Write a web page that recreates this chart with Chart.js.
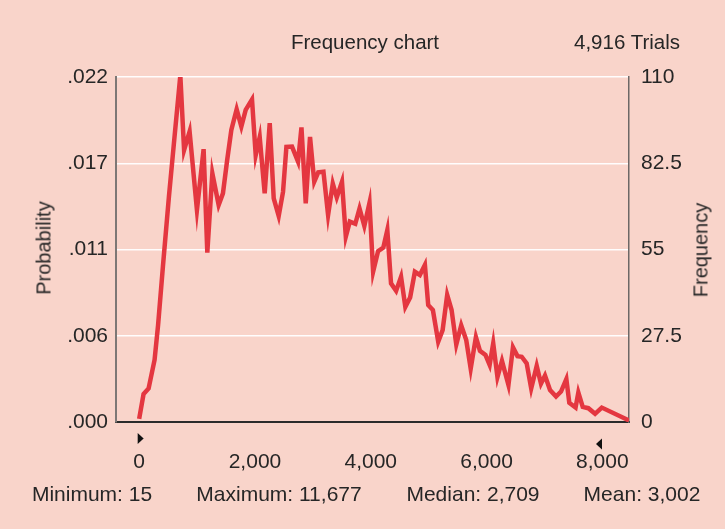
<!DOCTYPE html>
<html>
<head>
<meta charset="utf-8">
<script src="https://cdn.jsdelivr.net/npm/chart.js@4.4.1/dist/chart.umd.min.js"></script>
<style>
  html, body { margin: 0; padding: 0; background: rgb(249,212,202); }
  #wrap { position: relative; width: 725px; height: 529px; overflow: hidden; background: rgb(249,212,202); }
  canvas { position: absolute; left: 0; top: 0; }
  .t { position: absolute; font-family: 'Liberation Sans', Arial, sans-serif; color: #262626; white-space: nowrap; transform: translate(-50%, -50%); }
  .rot { transform: translate(-50%, -50%) rotate(-90deg); }
</style>
</head>
<body>
<div id="wrap">
  <canvas id="c" width="725" height="529"></canvas>
  <div class="t" style="left:365px; top:42px; font-size:20.5px;">Frequency chart</div>
  <div class="t" style="left:627px; top:42px; font-size:20.5px;">4,916 Trials</div>
  <div class="t rot" style="left:44px; top:248px; font-size:20px;">Probability</div>
  <div class="t rot" style="left:701px; top:250px; font-size:20px;">Frequency</div>
  <div id="stats"></div>
</div>
<script>
// ---- data ----
const binValues = [0, 76, 163, 266, 327, 410, 514, 595, 711, 776, 871, 998, 1113, 1177, 1264, 1373, 1447, 1520, 1592, 1684,
  1765, 1840, 1949, 2013, 2082, 2168, 2255, 2324, 2410, 2485, 2543, 2640, 2744, 2803, 2877, 2951, 3024, 3093, 3183, 3263,
  3344, 3413, 3503, 3569, 3638, 3733, 3806, 3889, 3978, 4041, 4127, 4217, 4286, 4350, 4438, 4523, 4597, 4680, 4762, 4848,
  4935, 4992, 5073, 5165, 5241, 5320, 5396, 5477, 5562, 5649, 5726, 5816, 5886, 5981, 6053, 6115, 6188, 6266, 6378, 6456,
  6534, 6607, 6693, 6771, 6866, 6940, 7009, 7096, 7200, 7286, 7378, 7429, 7537, 7585, 7661, 7758, 7874, 7990, 8460];
const frequencies = [1, 8.9, 10.7, 19.8, 30.9, 49.5, 71.8, 87.8, 110.5, 86.7, 92.6, 67.6, 87, 54, 79.3, 69.2, 72.9, 83.5, 93.1, 99.7,
  94.2, 99.5, 102.8, 85.1, 90.8, 72.9, 95.3, 71.3, 65.7, 73.4, 87.7, 87.8, 83, 93.9, 69.7, 90.9, 76.6, 79.6, 79.8, 66,
  76, 71.6, 76.6, 59.1, 63.9, 63.2, 68.1, 62.5, 69.9, 47.9, 54.5, 55.6, 61.2, 44.2, 41.8, 46.3, 36.7, 39.7, 47.9, 46.9,
  50.1, 37.3, 35.7, 25.6, 29.3, 40.5, 35.7, 24.7, 30.8, 26.1, 17, 27.1, 22.7, 21.4, 18.2, 25.1, 14.3, 19.5, 11.8, 23.8,
  21, 20.8, 18.7, 10.7, 17.9, 12.2, 14.8, 10.2, 8.1, 9.7, 13.7, 6.1, 4.6, 9.4, 4.8, 4.4, 2.6, 4.6, 0.5];
const yTickValues = [0, 27.5, 55, 82.5, 110];
const probabilityLabels = ['.000', '.006', '.011', '.017', '.022'];
const frequencyLabels = ['0', '27.5', '55', '82.5', '110'];
const xTickValues = [0, 2000, 4000, 6000, 8000];
const markerValues = [0, 7950];
const statLabels = ['Minimum: 15', 'Maximum: 11,677', 'Median: 2,709', 'Mean: 3,002'];

// ---- styles ----
const FONT = "'Liberation Sans', Arial, sans-serif";
const TEXT = '#262626';
const statCenters = [92, 279, 473, 642];

const statsEl = document.getElementById('stats');
statLabels.forEach((s, i) => {
  const d = document.createElement('div');
  d.className = 't';
  d.style.left = statCenters[i] + 'px';
  d.style.top = '494px';
  d.style.fontSize = '21px';
  d.textContent = s;
  statsEl.appendChild(d);
});

const markerPlugin = {
  id: 'markers',
  afterDraw(chart) {
    const ctx = chart.ctx;
    const xs = chart.scales.x;
    ctx.save();
    ctx.fillStyle = '#111';
    // left marker (points right)
    let px = xs.getPixelForValue(markerValues[0]);
    ctx.beginPath();
    ctx.moveTo(px - 1.5, 433);
    ctx.lineTo(px + 4.5, 438.5);
    ctx.lineTo(px - 1.5, 444);
    ctx.closePath();
    ctx.fill();
    // right marker (points left)
    px = xs.getPixelForValue(markerValues[1]);
    ctx.beginPath();
    ctx.moveTo(px + 2.5, 438.5);
    ctx.lineTo(px - 3.5, 444);
    ctx.lineTo(px + 2.5, 449.5);
    ctx.closePath();
    ctx.fill();
    ctx.restore();
  }
};

new Chart(document.getElementById('c'), {
  type: 'line',
  data: {
    datasets: [{
      data: binValues.map((x, i) => ({ x: x, y: frequencies[i] })),
      borderColor: 'rgb(228,55,64)',
      borderWidth: 4.5,
      pointRadius: 0,
      tension: 0,
      fill: false,
      yAxisID: 'y'
    }]
  },
  options: {
    responsive: false,
    animation: false,
    layout: { padding: { top: 77, bottom: 47, left: 0, right: 0 } },
    plugins: { legend: { display: false }, tooltip: { enabled: false } },
    scales: {
      x: {
        type: 'linear',
        min: -400,
        max: 8460,
        afterBuildTicks: s => { s.ticks = xTickValues.map(v => ({ value: v })); },
        afterFit: s => { s.height = 60; },
        ticks: {
          callback: v => v.toLocaleString('en-US'),
          font: { family: FONT, size: 21 },
          color: TEXT,
          padding: 28,
          maxRotation: 0,
          autoSkip: false
        },
        grid: { display: false, drawTicks: false },
        border: { display: true, color: '#2b2b2b', width: 2 }
      },
      y: {
        position: 'left',
        min: 0,
        max: 110,
        afterBuildTicks: s => { s.ticks = yTickValues.map(v => ({ value: v })); },
        afterFit: s => { s.width = 116; },
        ticks: {
          callback: (v, i) => probabilityLabels[i],
          font: { family: FONT, size: 21 },
          color: TEXT,
          padding: 8
        },
        grid: {
          color: c => (c.tick && c.tick.value === 0) ? 'rgba(0,0,0,0)' : 'rgba(255,255,255,0.95)',
          lineWidth: 1.5,
          drawTicks: false
        },
        border: { display: true, color: '#7d7775', width: 2 }
      },
      y2: {
        position: 'right',
        min: 0,
        max: 110,
        afterBuildTicks: s => { s.ticks = yTickValues.map(v => ({ value: v })); },
        afterFit: s => { s.width = 96; },
        ticks: {
          callback: (v, i) => frequencyLabels[i],
          font: { family: FONT, size: 21 },
          color: TEXT,
          padding: 12
        },
        grid: { display: false, drawTicks: false },
        border: { display: true, color: '#6d6866', width: 1.5 }
      }
    }
  },
  plugins: [markerPlugin]
});
</script>
</body>
</html>
